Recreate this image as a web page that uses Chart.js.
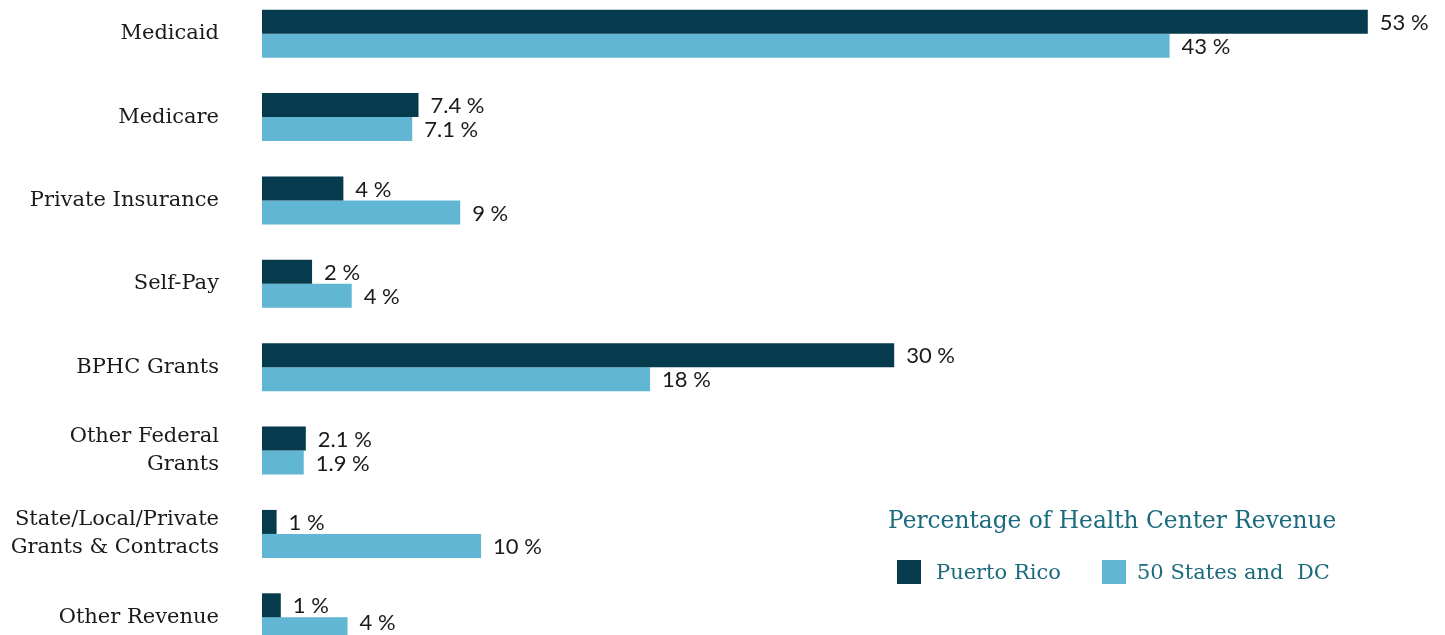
<!DOCTYPE html>
<html>
<head>
<meta charset="utf-8">
<script src="https://cdn.jsdelivr.net/npm/chart.js@4.4.1/dist/chart.umd.min.js"></script>
<style>
  html, body { margin: 0; padding: 0; background: #fff; overflow: hidden; width: 1445px; height: 635px; }
  #wrap { position: absolute; left: 0; top: -8px; width: 1445px; height: 667px; }
  #legend { position: absolute; left: 0; top: 0; color: #1b6a7e; font-family: 'DejaVu Serif', serif; }
  #legend .title { position: absolute; left: 888px; top: 505px; font-size: 23.3px; line-height: 30px; white-space: nowrap; }
  #legend .box { position: absolute; top: 560px; width: 24px; height: 24px; }
  #legend .text { position: absolute; top: 558px; font-size: 21px; line-height: 28px; white-space: nowrap; }
</style>
</head>
<body>
<div id="wrap"><canvas id="chart"></canvas></div>
<div id="legend"></div>
<script>
// categories and values
const categories = [
    ['Medicaid'],
    ['Medicare'],
    ['Private Insurance'],
    ['Self-Pay'],
    ['BPHC Grants'],
    ['Other Federal', 'Grants'],
    ['State/Local/Private', 'Grants & Contracts'],
    ['Other Revenue']
];
const seriesNames = ['Puerto Rico', '50 States and  DC'];
const puertoRico = [53, 7.5, 3.9, 2.4, 30.3, 2.1, 0.7, 0.9];
const statesDC = [43.5, 7.2, 9.5, 4.3, 18.6, 2.0, 10.5, 4.1];
const puertoRicoLabels = ['53 %', '7.4 %', '4 %', '2 %', '30 %', '2.1 %', '1 %', '1 %'];
const statesDCLabels = ['43 %', '7.1 %', '9 %', '4 %', '18 %', '1.9 %', '10 %', '4 %'];
const legendTitle = 'Percentage of Health Center Revenue';

const DARK = '#053b4c';
const LIGHT = '#61b6d4';

// value labels at the end of each bar
const barLabels = {
    id: 'barLabels',
    afterDatasetsDraw(chart) {
        const ctx = chart.ctx;
        // the canvas sits 8px above the page and runs past its bottom edge
        const maxY = 635 + 8 - 12;
        ctx.save();
        ctx.font = '22px Lato';
        ctx.fillStyle = '#1a1a1a';
        ctx.textBaseline = 'middle';
        ctx.textAlign = 'left';
        chart.data.datasets.forEach((ds, di) => {
            const meta = chart.getDatasetMeta(di);
            meta.data.forEach((bar, i) => {
                ctx.fillText(ds.valueLabels[i], bar.x + 12, Math.min(bar.y + 1, maxY));
            });
        });
        ctx.restore();
    }
};

const chart = new Chart(document.getElementById('chart'), {
    type: 'bar',
    data: {
        labels: categories,
        datasets: [
            { label: seriesNames[0], data: puertoRico, valueLabels: puertoRicoLabels, backgroundColor: DARK },
            { label: seriesNames[1], data: statesDC, valueLabels: statesDCLabels, backgroundColor: LIGHT }
        ]
    },
    options: {
        indexAxis: 'y',
        responsive: true,
        maintainAspectRatio: false,
        animation: false,
        devicePixelRatio: 1,
        layout: { padding: 0 },
        categoryPercentage: 0.576,
        barPercentage: 1,
        plugins: {
            legend: { display: false },
            tooltip: { enabled: false }
        },
        scales: {
            x: { display: false, min: 0, max: 56.7 },
            y: {
                afterFit(scale) {
                    scale.width = 262;
                    // tick padding should only push the labels left, not shrink the plot vertically
                    scale.paddingTop = 0;
                    scale.paddingBottom = 0;
                },
                border: { display: false },
                grid: { display: false, drawTicks: false },
                ticks: {
                    padding: 43,
                    color: '#1a1a1a',
                    font: { family: 'DejaVu Serif', size: 21, lineHeight: 1.33 }
                }
            }
        }
    },
    plugins: [barLabels]
});

// legend built from the datasets
const legend = document.getElementById('legend');
const boxX = [897, 1102];
const textX = [936, 1137];
let html = '<div class="title">' + legendTitle + '</div>';
chart.data.datasets.forEach((ds, i) => {
    html += '<div class="box" style="left:' + boxX[i] + 'px;background:' + ds.backgroundColor + '"></div>' +
        '<div class="text" style="left:' + textX[i] + 'px">' + ds.label.replace(/  /g, ' &nbsp;') + '</div>';
});
legend.innerHTML = html;
</script>
</body>
</html>
